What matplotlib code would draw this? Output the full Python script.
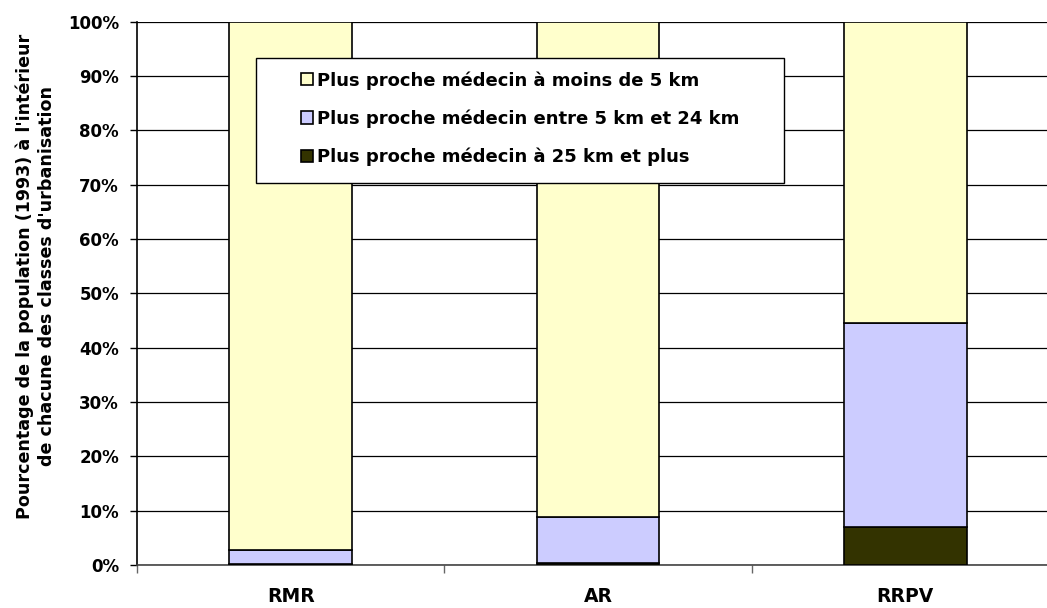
import matplotlib
matplotlib.use("Agg")
import matplotlib.pyplot as plt
import numpy as np
from matplotlib.ticker import FuncFormatter
from matplotlib.patches import Rectangle

categories = ["RMR", "AR", "RRPV"]
series_names = ["Plus proche médecin à moins de 5 km",
                "Plus proche médecin entre 5 km et 24 km",
                "Plus proche médecin à 25 km et plus"]
far = [0.2, 0.4, 7.0]
mid = [2.6, 8.4, 37.5]
near = [97.2, 91.2, 55.5]
colors = ["#FFFFCC", "#CCCCFF", "#333300"]

plt.rcParams['font.family'] = ['DejaVu Sans']

fig = plt.figure(figsize=(10.47, 6.08), dpi=100)
W, H = 1047, 608
ax = fig.add_axes([137 / W, (H - 565) / H, 922 / W, (565 - 21.7) / H])

x = np.arange(len(categories))
bw = 0.4
b1 = ax.bar(x, far, bw, color=colors[2], edgecolor="black", linewidth=1.2, zorder=3)
b2 = ax.bar(x, mid, bw, bottom=far, color=colors[1], edgecolor="black", linewidth=1.2, zorder=3)
bottom3 = np.array(far) + np.array(mid)
b3 = ax.bar(x, near, bw, bottom=bottom3, color=colors[0], edgecolor="black", linewidth=1.2, zorder=3)

ax.set_xlim(-0.5, 2.5)
ax.set_ylim(0, 100)
ax.set_yticks(np.arange(0, 101, 10))
ax.yaxis.set_major_formatter(FuncFormatter(lambda v, p: f"{int(v)}%"))
ax.set_xticks(x)
ax.set_xticklabels(categories, fontsize=13.5, fontweight="bold")
ax.set_xticks([-0.5, 0.5, 1.5, 2.5], minor=True)
ax.tick_params(axis="x", which="major", length=0, pad=16)
ax.tick_params(axis="x", which="minor", length=6, width=1, color="#666666", direction="out")
ax.tick_params(axis="y", labelsize=12, length=5, width=1, direction="out", pad=8)
for lab in ax.get_yticklabels():
    lab.set_fontweight("bold")

ax.grid(axis="y", color="black", linewidth=0.9, zorder=0)
for s in ["top", "right"]:
    ax.spines[s].set_visible(False)
ax.spines["left"].set_linewidth(1.2)
ax.spines["bottom"].set_linewidth(1.2)
ax.spines["bottom"].set_color("#444444")

ax.set_ylabel("Pourcentage de la population (1993) à l'intérieur\nde chacune des classes d'urbanisation",
              fontsize=12.6, fontweight="bold", linespacing=1.3)
ax.yaxis.set_label_coords((56 - 137) / 922, (565 - 276) / (565 - 21.7))

# legend box
box = Rectangle((256 / W, 1 - 182.5 / H), (784 - 256) / W, (182.5 - 57.5) / H,
                transform=fig.transFigure, facecolor="white", edgecolor="black",
                linewidth=1.0, zorder=4)
fig.patches.append(box)

leg = fig.legend([b3, b2, b1], series_names, loc="upper left",
                 bbox_to_anchor=(301 / W, 1 - 71 / H),
                 prop={"weight": "bold", "size": 13},
                 frameon=False,
                 handlelength=0.68, handleheight=0.68, handletextpad=0.22,
                 labelspacing=1.1, borderpad=0.0, borderaxespad=0)
leg.set_zorder(5)

fig.savefig("out.png", dpi=100)
